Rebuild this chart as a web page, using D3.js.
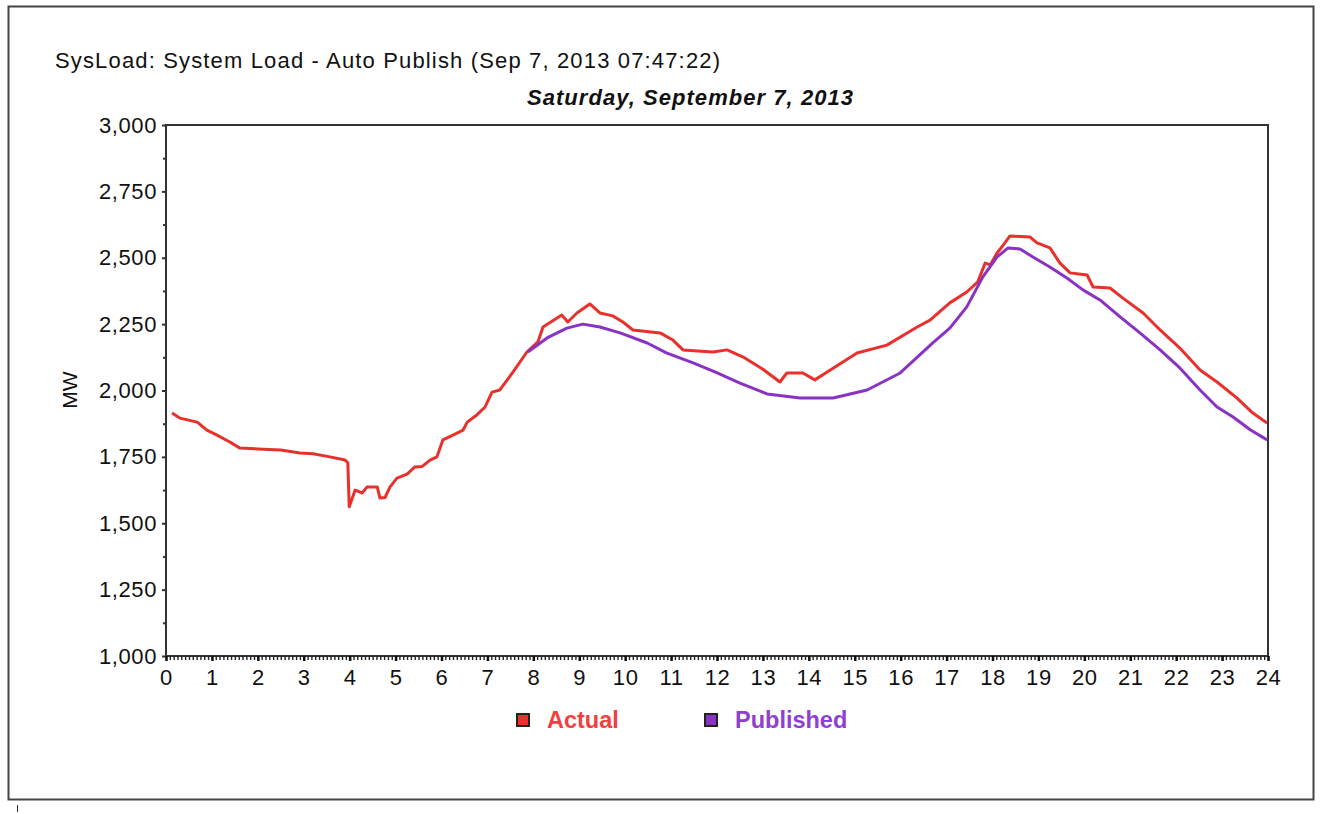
<!DOCTYPE html>
<html>
<head>
<meta charset="utf-8">
<script src="https://cdn.jsdelivr.net/npm/d3@7"></script>
<style>
  html, body { margin: 0; padding: 0; background: #fff; }
  svg { display: block; font-family: "Liberation Sans", Arial, sans-serif; }
</style>
</head>
<body>
<div class="chart"></div>
<script>
// hour of day for each reading
const actualHours = [0.13, 0.3, 0.68, 0.89, 1.11, 1.39, 1.61, 2.0, 2.5, 2.92, 3.2, 3.57, 3.9, 3.96, 3.99, 4.12, 4.27, 4.38, 4.6, 4.66, 4.77, 4.88, 5.03, 5.25, 5.42, 5.58, 5.75, 5.9, 6.03, 6.25, 6.47, 6.56, 6.77, 6.95, 7.1, 7.27, 7.56, 7.86, 8.1, 8.21, 8.62, 8.75, 8.95, 9.23, 9.45, 9.73, 9.95, 10.17, 10.76, 11.04, 11.26, 11.91, 12.22, 12.57, 13.0, 13.37, 13.52, 13.87, 14.13, 14.4, 15.05, 15.7, 16.36, 16.64, 17.07, 17.44, 17.68, 17.84, 17.95, 18.1, 18.27, 18.38, 18.82, 18.97, 19.25, 19.47, 19.69, 20.06, 20.19, 20.56, 20.84, 21.28, 21.65, 22.08, 22.52, 22.89, 23.32, 23.67, 23.98];
const actualMW = [1915, 1896, 1881, 1851, 1832, 1806, 1783, 1780, 1776, 1765, 1762, 1750, 1738, 1728, 1562, 1625, 1614, 1637, 1637, 1595, 1597, 1637, 1670, 1685, 1712, 1714, 1738, 1750, 1814, 1832, 1851, 1881, 1908, 1938, 1994, 2002, 2070, 2145, 2183, 2239, 2284, 2258, 2292, 2326, 2292, 2281, 2258, 2228, 2217, 2190, 2153, 2145, 2153, 2126, 2080, 2032, 2066, 2066, 2040, 2070, 2141, 2171, 2239, 2265, 2330, 2371, 2409, 2480, 2473, 2518, 2556, 2582, 2578, 2556, 2537, 2480, 2443, 2435, 2390, 2386, 2348, 2292, 2228, 2160, 2077, 2032, 1972, 1915, 1878];

const publishedHours = [7.88, 8.3, 8.73, 9.08, 9.45, 9.89, 10.48, 10.91, 11.48, 11.98, 12.5, 13.09, 13.81, 14.53, 15.27, 15.99, 16.7, 17.07, 17.44, 17.79, 18.1, 18.34, 18.6, 18.88, 19.25, 19.62, 19.97, 20.34, 20.78, 21.21, 21.65, 22.08, 22.52, 22.89, 23.24, 23.62, 23.98];
const publishedMW = [2145, 2198, 2235, 2250, 2239, 2217, 2179, 2141, 2104, 2068, 2028, 1987, 1972, 1972, 2002, 2066, 2179, 2235, 2315, 2428, 2503, 2537, 2533, 2503, 2465, 2424, 2379, 2341, 2277, 2217, 2153, 2085, 2002, 1938, 1900, 1851, 1814];

const seriesNames = ['Actual', 'Published'];
const seriesColors = ['#e8302c', '#8a32c4'];
const yTicks = [1000, 1250, 1500, 1750, 2000, 2250, 2500, 2750, 3000];

const W = 1321, H = 814;
const plot = { left: 166, top: 125, right: 1268, bottom: 656 };
const font = '"Liberation Sans", Arial, sans-serif';

const svg = d3.select('.chart').append('svg').attr('width', W).attr('height', H);

// outer frame
svg.append('rect').attr('x', 8.5).attr('y', 6.5).attr('width', 1305).attr('height', 793)
    .attr('fill', 'none').attr('stroke', '#444').attr('stroke-width', 2);
svg.append('line').attr('x1', 17.5).attr('x2', 17.5).attr('y1', 805).attr('y2', 812)
    .attr('stroke', '#333').attr('stroke-width', 1);

svg.append('text').text('SysLoad: System Load - Auto Publish (Sep 7, 2013 07:47:22)')
    .attr('x', 55).attr('y', 68).attr('textLength', 665).attr('lengthAdjust', 'spacing')
    .style('font-size', '22px').attr('fill', '#111');
svg.append('text').text('Saturday, September 7, 2013')
    .attr('x', 527).attr('y', 105).attr('textLength', 326).attr('lengthAdjust', 'spacing')
    .style('font-size', '22px').style('font-weight', 'bold').style('font-style', 'italic').attr('fill', '#111');

const x = d3.scaleLinear().domain([0, 24]).range([plot.left, plot.right]);
const y = d3.scaleLinear().domain([1000, 3000]).range([plot.bottom, plot.top]);

// plot box
svg.append('rect').attr('x', plot.left).attr('y', plot.top)
    .attr('width', plot.right - plot.left).attr('height', plot.bottom - plot.top)
    .attr('fill', '#fff').attr('stroke', '#333').attr('stroke-width', 2);

// y axis
const yAxis = d3.axisLeft(y).tickValues(yTicks).tickSize(4).tickPadding(5).tickFormat(d3.format(','));
svg.append('g').attr('transform', 'translate(' + plot.left + ',0)').call(yAxis)
    .call(function (g) { g.select('.domain').remove(); })
    .call(function (g) {
        g.selectAll('line').attr('stroke', '#333').attr('stroke-width', 2);
        g.selectAll('text').style('font-size', '22px').style('font-family', font)
            .style('letter-spacing', '0.6px').attr('fill', '#111');
    });
const yMinor = d3.axisLeft(y).tickValues(d3.range(1125, 3000, 250)).tickSize(3).tickFormat('');
svg.append('g').attr('transform', 'translate(' + plot.left + ',0)').call(yMinor)
    .call(function (g) { g.select('.domain').remove(); g.selectAll('line').attr('stroke', '#333').attr('stroke-width', 2); });

// x axis: minor 5-minute ticks, major hourly ticks
const xMinor = d3.axisBottom(x).tickValues(d3.range(0, 24.001, 1 / 12)).tickSize(4).tickFormat('');
svg.append('g').attr('transform', 'translate(0,' + plot.bottom + ')').call(xMinor)
    .call(function (g) { g.select('.domain').remove(); g.selectAll('line').attr('stroke', '#222').attr('stroke-width', 1.4); });
const xAxis = d3.axisBottom(x).tickValues(d3.range(0, 25)).tickSize(5).tickPadding(8);
svg.append('g').attr('transform', 'translate(0,' + plot.bottom + ')').call(xAxis)
    .call(function (g) { g.select('.domain').remove(); })
    .call(function (g) {
        g.selectAll('line').attr('stroke', '#111').attr('stroke-width', 2.5);
        g.selectAll('text').style('font-size', '22px').style('font-family', font)
            .style('letter-spacing', '0.6px').attr('fill', '#111');
    });

svg.append('text').text('MW').attr('transform', 'translate(77,390) rotate(-90)')
    .attr('text-anchor', 'middle').style('font-size', '21px').attr('fill', '#111');

// lines
const line = d3.line().x(function (d) { return x(d[0]); }).y(function (d) { return y(d[1]); });
const series = [
    d3.zip(actualHours, actualMW),
    d3.zip(publishedHours, publishedMW)
];
svg.append('g').selectAll('path').data(series).enter().append('path')
    .attr('d', line).attr('fill', 'none')
    .attr('stroke', function (d, i) { return seriesColors[i]; })
    .attr('stroke-width', 3).attr('stroke-linejoin', 'round');

// legend
const legendX = [517, 705];
const legend = svg.append('g').selectAll('g').data(seriesNames).enter().append('g')
    .attr('transform', function (d, i) { return 'translate(' + legendX[i] + ',714)'; });
legend.append('rect').attr('width', 12).attr('height', 12)
    .attr('fill', function (d, i) { return seriesColors[i]; })
    .attr('stroke', '#222').attr('stroke-width', 2);
legend.append('text').text(function (d) { return d; })
    .attr('x', 30).attr('y', 14)
    .style('font-size', '23.5px').style('font-weight', 'bold')
    .attr('fill', function (d, i) { return i === 0 ? '#f04040' : '#9040d0'; });
</script>
</body>
</html>
